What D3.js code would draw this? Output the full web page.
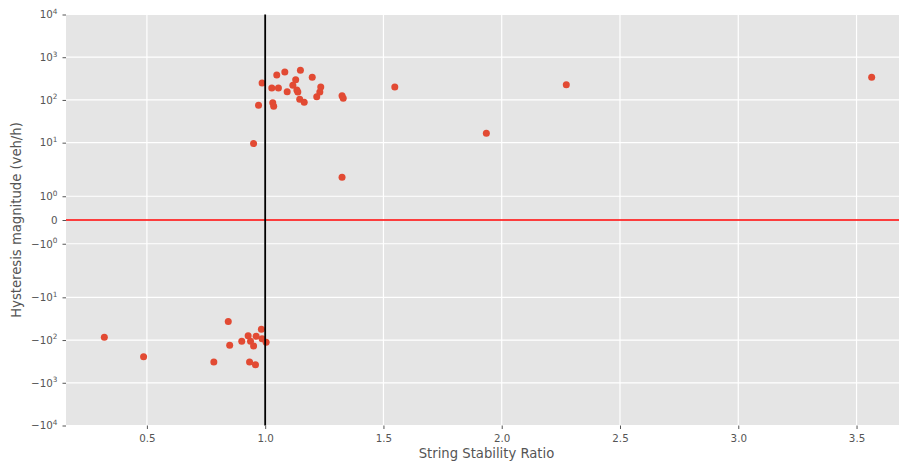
<!DOCTYPE html>
<html>
<head>
<meta charset="utf-8">
<script src="https://cdn.jsdelivr.net/npm/d3@7"></script>
<style>
  body { margin: 0; background: #fff; }
  svg { display: block; font-family: "DejaVu Sans", sans-serif; }
</style>
</head>
<body>
<div id="chart"></div>
<script>
// values
const ratio = [
  0.987, 1.028, 1.056, 1.049, 1.083, 1.149, 1.129, 1.117, 1.093, 1.134,
  1.138, 1.199, 1.235, 1.231, 1.218, 1.146, 1.165, 1.032, 1.036, 0.972,
  1.325, 1.330, 1.548, 0.951, 1.325, 1.935, 2.273, 3.564,
  0.320, 0.486, 0.783, 0.844, 0.850, 0.901, 0.928, 0.938, 0.951, 0.962,
  0.984, 0.987, 1.004, 0.934, 0.959
]
const hysteresis = [
  249, 191, 191, 384, 451, 494, 298, 220, 156, 171,
  153, 339, 201, 153, 119, 104, 88, 86, 71, 75,
  126, 109, 201, 9.5, 1.8, 16.6, 228, 339,
  -86, -245, -327, -37, -133, -107, -79, -107, -138, -82,
  -56, -93, -113, -327, -378
]
const xTicks = [0.5, 1.0, 1.5, 2.0, 2.5, 3.0, 3.5]
const yTicks = [-1e4, -1e3, -1e2, -1e1, -1, 0, 1, 1e1, 1e2, 1e3, 1e4]
const yTickBase = ['\u221210', '\u221210', '\u221210', '\u221210', '\u221210', '0', '10', '10', '10', '10', '10']
const yTickExp = ['4', '3', '2', '1', '0', '', '0', '1', '2', '3', '4']

var width = 899
var height = 464
// plot box (the axes run a bit past the right edge, as in the picture)
var plotL = 66, plotR = 910, plotT = 14.5, plotB = 425.5

// matplotlib style symlog, linthresh 2, linscale 1
const LINTHRESH = 2
const LINSCALE = 1 / (1 - 1 / 10)
function symlog(v) {
  var a = Math.abs(v)
  if (a <= LINTHRESH) return v / LINTHRESH * LINSCALE
  return Math.sign(v) * (LINSCALE + Math.log10(a / LINTHRESH))
}

var x = d3.scaleLinear().domain([0.158, 3.726]).range([plotL, plotR])
var yLin = d3.scaleLinear().domain([symlog(-1e4), symlog(1e4)]).range([plotB, plotT])
var y = function (v) { return yLin(symlog(v)) }

var svg = d3.select('#chart')
  .append('svg')
  .attr('width', width)
  .attr('height', height)

svg.append('rect')
  .attr('x', plotL).attr('y', plotT)
  .attr('width', plotR - plotL).attr('height', plotB - plotT)
  .attr('fill', '#E5E5E5')

// grid
svg.append('g').selectAll('line')
  .data(xTicks).enter().append('line')
  .attr('x1', d => x(d)).attr('x2', d => x(d))
  .attr('y1', plotT).attr('y2', plotB)
  .attr('stroke', '#fff').attr('stroke-width', 1.2)

svg.append('g').selectAll('line')
  .data(yTicks).enter().append('line')
  .attr('x1', plotL).attr('x2', plotR)
  .attr('y1', d => y(d)).attr('y2', d => y(d))
  .attr('stroke', '#fff').attr('stroke-width', 1.2)

// points
svg.append('g').selectAll('circle')
  .data(ratio).enter().append('circle')
  .attr('cx', d => x(d))
  .attr('cy', (d, i) => y(hysteresis[i]))
  .attr('r', 3.5)
  .attr('fill', '#E24A33')

// reference lines
svg.append('line')
  .attr('x1', plotL).attr('x2', plotR)
  .attr('y1', y(0)).attr('y2', y(0))
  .attr('stroke', '#f00').attr('stroke-width', 1.5)

svg.append('line')
  .attr('x1', x(1)).attr('x2', x(1))
  .attr('y1', plotT).attr('y2', plotB)
  .attr('stroke', '#000').attr('stroke-width', 1.8)

// axes
var xAxis = svg.append('g')
  .attr('transform', 'translate(0,' + plotB + ')')
  .call(d3.axisBottom(x).tickValues(xTicks).tickFormat(d3.format('.1f')).tickSize(3.5).tickPadding(5.5))
var yAxis = svg.append('g')
  .attr('transform', 'translate(' + plotL + ',0)')
  .call(d3.axisLeft(yLin).tickValues(yTicks.map(symlog)).tickSize(3.5).tickPadding(5))

;[xAxis, yAxis].forEach(function (g) {
  g.select('.domain').remove()
  g.selectAll('line').attr('stroke', '#555')
  g.selectAll('text').attr('fill', '#555').attr('font-size', 10.3).attr('font-family', '"DejaVu Sans", sans-serif')
})

yAxis.selectAll('.tick text').each(function (d, i) {
  var t = d3.select(this).text('')
  t.append('tspan').text(yTickBase[i])
  if (yTickExp[i]) {
    t.append('tspan').attr('dy', -4.5).attr('font-size', 7.3).text(yTickExp[i])
  }
})

svg.append('text')
  .attr('x', (plotL + 899) / 2 + 4)
  .attr('y', 458)
  .attr('text-anchor', 'middle')
  .attr('fill', '#555')
  .attr('font-size', 13.2)
  .text('String Stability Ratio')

svg.append('text')
  .attr('transform', 'translate(20.5,' + (plotT + plotB) / 2 + ') rotate(-90)')
  .attr('text-anchor', 'middle')
  .attr('fill', '#555')
  .attr('font-size', 13.2)
  .text('Hysteresis magnitude (veh/h)')
</script>
</body>
</html>
